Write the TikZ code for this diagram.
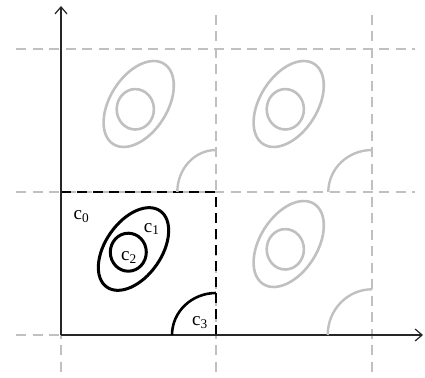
\documentclass[tikz,border=0pt]{standalone}
\usepackage{fontspec}
\setmainfont{Liberation Serif}
\usetikzlibrary{arrows.meta}
\definecolor{lg}{RGB}{192,192,192}
\begin{document}
\begin{tikzpicture}[x=1pt,y=-1pt,
  gdash/.style={draw=lg, line width=2pt, dash pattern=on 10pt off 6.5pt},
  bdash/.style={draw=black, line width=2.8pt, dash pattern=on 10pt off 6pt},
  axis/.style={draw=black!85, line width=1.2pt, -{Straight Barb[length=7pt,width=12pt,line width=1.2pt]}},
  gshape/.style={draw=lg, line width=2.6pt},
  bshape/.style={draw=black, line width=3pt},
  lab/.style={font=\fontsize{19}{21}\selectfont, inner sep=0pt}]
\useasboundingbox (0,0) rectangle (425,377);
% grid
\foreach \yy in {49,192,335} {\draw[gdash] (16,\yy) -- (415,\yy);}
\foreach \xx in {61,216,372} {\draw[gdash] (\xx,15) -- (\xx,375);}
% black dashed cell border
\coordinate (tl) at (61,192);
\coordinate (tr) at (216,192);
\coordinate (br) at (216,335);
\draw[bdash] (tl) -- (tr) -- (br);
% axes
\coordinate (o) at (61,335);
\coordinate (xe) at (423,335);
\coordinate (ye) at (61,6);
\draw[axis] (o) -- (xe);
\draw[axis] (o) -- (ye);
% gray shapes
\foreach \cx/\cy in {138.7/104, 288.7/104, 288.7/244} {
  \draw[gshape, rotate around={57.7:(\cx,\cy)}] (\cx,\cy) ellipse [x radius=47.5, y radius=28.7];
  \draw[gshape] ({\cx-3.4},{\cy+5.3}) ellipse [x radius=18.6, y radius=20.2];
}
% gray arcs
\draw[gshape, line width=2.4pt] (177.3,192) arc[start angle=180, end angle=270, x radius=38.7, y radius=42];
\draw[gshape, line width=2.4pt] (328.3,192) arc[start angle=180, end angle=270, x radius=43.7, y radius=42];
\draw[gshape, line width=2.4pt] (327.7,335) arc[start angle=180, end angle=270, x radius=44.3, y radius=45.7];
% black shapes
\draw[bshape, rotate around={55:(133.5,249)}] (133.5,249) ellipse [x radius=46.5, y radius=28];
\draw[bshape] (128.3,252.2) ellipse [x radius=18, y radius=19];
\draw[bshape, line width=2.6pt] (172,335) arc[start angle=180, end angle=270, x radius=44, y radius=42];
% labels
\node[lab] (c0) at (81.5,217) {c\textsubscript{0}};
\node[lab] (c1) at (151.7,229) {c\textsubscript{1}};
\node[lab] (c2) at (129,257.5) {c\textsubscript{2}};
\node[lab] (c3) at (200,323) {c\textsubscript{3}};
\end{tikzpicture}
\end{document}
